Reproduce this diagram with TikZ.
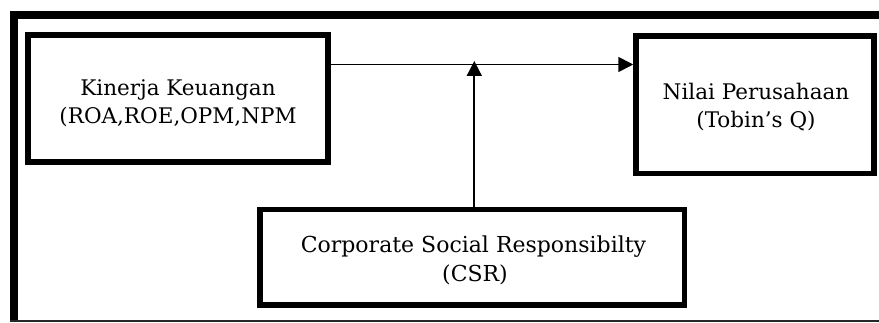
\documentclass[tikz,border=0pt]{standalone}
\usepackage{fontspec}
\setmainfont{DejaVu Serif}
\usetikzlibrary{arrows.meta}
\begin{document}
\begin{tikzpicture}[x=1pt,y=-1pt,
  varbox/.style={draw=black,line width=5.5pt,fill=white,rectangle,inner sep=0pt},
  txt/.style={anchor=base,inner sep=0pt,font=\fontsize{21.5}{28}\selectfont},
  bigtxt/.style={txt,font=\fontsize{22}{28}\selectfont},
  link/.style={line width=1.8pt,-{Triangle[length=15pt,width=15pt]}},
  frameline/.style={line width=#1,line cap=butt}]
\useasboundingbox (0,0) rectangle (879,323);
% page frame (open on the right)
\draw[frameline=7.5pt] (13.75,11) -- (13.75,322.5);
\draw[frameline=8pt] (10,15) -- (879,15);
\draw[frameline=2pt,black!85] (10,321.5) -- (879,321.5);
% variable boxes
\node[varbox,minimum width=300pt,minimum height=127pt] (kinerja) at (178,98.5) {};
\node[varbox,minimum width=238pt,minimum height=137.5pt] (nilai) at (755,104.75) {};
\node[varbox,minimum width=424.5pt,minimum height=95.5pt] (csr) at (472.25,257.25) {};
% box texts, one node per line, placed on their baselines
\node[txt] (kinerjaA) at (178,96) {Kinerja Keuangan};
\node[txt] (kinerjaB) at (178,124) {(ROA,ROE,OPM,NPM};
\node[txt] (nilaiA) at (756,99.3) {Nilai Perusahaan};
\node[txt] (nilaiB) at (756,127.5) {(Tobin’s Q)};
\node[bigtxt] (csrA) at (473.5,253) {Corporate Social Responsibilty};
\node[bigtxt] (csrB) at (475,281.5) {(CSR)};
% connectors
\coordinate (mainy) at (0,64.5);
\coordinate (meet) at (474.3,61);
\draw[link] (kinerja.east |- mainy) -- (nilai.west |- mainy);
\draw[link] (csr.north -| meet) -- (meet);
\end{tikzpicture}
\end{document}
